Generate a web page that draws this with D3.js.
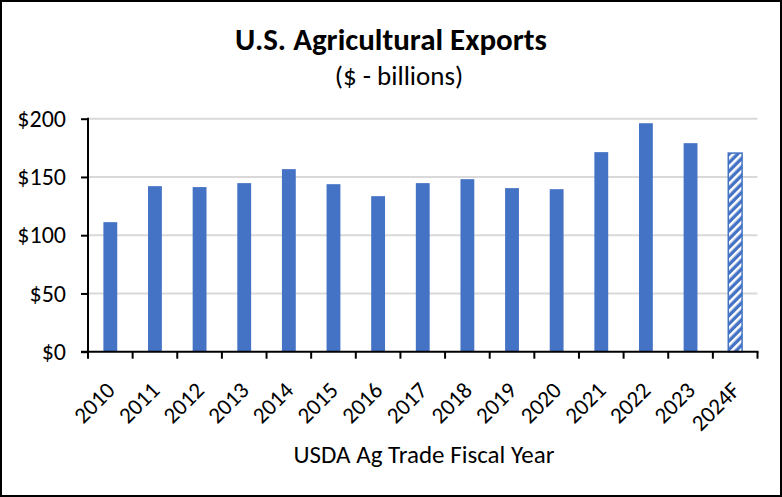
<!DOCTYPE html>
<html>
<head>
<meta charset="utf-8">
<script src="https://cdn.jsdelivr.net/npm/d3@7"></script>
<style>
  body { margin: 0; background: #fff; }
  svg { display: block; font-family: Carlito, Calibri, Lato, sans-serif; }
</style>
</head>
<body>
<svg id="chart"></svg>
<script>
// fiscal years and export values ($ billions)
let years = ['2010', '2011', '2012', '2013', '2014', '2015', '2016', '2017',
             '2018', '2019', '2020', '2021', '2022', '2023', '2024F'];
let exports = [111.2, 142.1, 141.3, 144.7, 156.7, 143.8, 133.5, 144.7,
               148.1, 140.4, 139.5, 171.3, 196.1, 179.0, 170.5];
let forecast = ['2024F'];
let yTicks = [0, 50, 100, 150, 200];

var width = 782;
var height = 497;
let margin = { top: 118.7, right: 24.5, bottom: 145.3, left: 88 };
let innerW = width - margin.left - margin.right;
let innerH = height - margin.top - margin.bottom;

let data = years.map((y, i) => ({ year: y, value: exports[i] }));

let svg = d3.select('#chart').attr('width', width).attr('height', height);

// hatch for the forecast bar
let pat = svg.append('defs').append('pattern')
    .attr('id', 'hatch')
    .attr('patternUnits', 'userSpaceOnUse')
    .attr('width', 6).attr('height', 6)
    .attr('patternTransform', 'rotate(45)');
pat.append('rect').attr('width', 6).attr('height', 6).attr('fill', '#4472C4');
pat.append('rect').attr('width', 2.6).attr('height', 6).attr('fill', '#fff');

// outer frame
svg.append('rect')
    .attr('x', 1).attr('y', 1)
    .attr('width', width - 2).attr('height', height - 2)
    .attr('fill', '#fff').attr('stroke', '#000').attr('stroke-width', 2);

svg.append('text')
    .attr('x', 391).attr('y', 50)
    .attr('text-anchor', 'middle')
    .attr('font-size', 31).attr('font-weight', 'bold')
    .text('U.S. Agricultural Exports');

svg.append('text')
    .attr('x', 399).attr('y', 85)
    .attr('text-anchor', 'middle')
    .attr('font-size', 27)
    .text('($ - billions)');

let g = svg.append('g').attr('transform', 'translate(' + margin.left + ',' + margin.top + ')');

let x = d3.scaleBand()
    .domain(years)
    .range([0, innerW])
    .paddingInner(0.69)
    .paddingOuter(0.345);

let xOuter = d3.scaleBand().domain(years).range([0, innerW]);

let y = d3.scaleLinear().domain([0, 200]).range([innerH, 0]);

// gridlines
g.append('g')
    .selectAll('line')
    .data(yTicks.slice(1))
    .enter().append('line')
    .attr('x1', 0).attr('x2', innerW)
    .attr('y1', d => y(d)).attr('y2', d => y(d))
    .attr('stroke', '#d9d9d9').attr('stroke-width', 2);

// bars
g.append('g')
    .selectAll('rect')
    .data(data)
    .enter().append('rect')
    .attr('x', d => x(d.year))
    .attr('y', d => y(d.value))
    .attr('width', x.bandwidth())
    .attr('height', d => y(0) - y(d.value))
    .attr('fill', d => forecast.includes(d.year) ? 'url(#hatch)' : '#4472C4')
    .attr('stroke', d => forecast.includes(d.year) ? '#4472C4' : 'none')
    .attr('stroke-width', 1.5);

// y axis
let yAxis = g.append('g')
    .call(d3.axisLeft(y).tickValues(yTicks).tickSize(7).tickPadding(15)
        .tickFormat(d => '$' + d));
yAxis.select('.domain').attr('stroke', '#000').attr('stroke-width', 2)
    .attr('d', 'M0,' + (innerH + 1) + 'V' + (-1));
yAxis.selectAll('.tick line').attr('stroke', '#000').attr('stroke-width', 2);
yAxis.selectAll('text').attr('font-size', 24).attr('fill', '#000')
    .attr('font-family', 'Carlito, Calibri, Lato, sans-serif');

// x axis with ticks at category boundaries
let xAxis = g.append('g').attr('transform', 'translate(0,' + innerH + ')');
xAxis.append('line')
    .attr('x1', -7).attr('x2', innerW + 1)
    .attr('stroke', '#000').attr('stroke-width', 2);
xAxis.selectAll('line.tk')
    .data(years.concat(['end']))
    .enter().append('line')
    .attr('class', 'tk')
    .attr('x1', (d, i) => i * xOuter.step()).attr('x2', (d, i) => i * xOuter.step())
    .attr('y1', 0).attr('y2', 7)
    .attr('stroke', '#000').attr('stroke-width', 2);
xAxis.selectAll('text')
    .data(years)
    .enter().append('text')
    .attr('text-anchor', 'end')
    .attr('font-size', 23)
    .attr('transform', d => 'translate(' + (xOuter(d) + xOuter.bandwidth() / 2 + 6) + ',40) rotate(-45)')
    .text(d => d);

svg.append('text')
    .attr('x', 424).attr('y', 463)
    .attr('text-anchor', 'middle')
    .attr('font-size', 25)
    .text('USDA Ag Trade Fiscal Year');
</script>
</body>
</html>
